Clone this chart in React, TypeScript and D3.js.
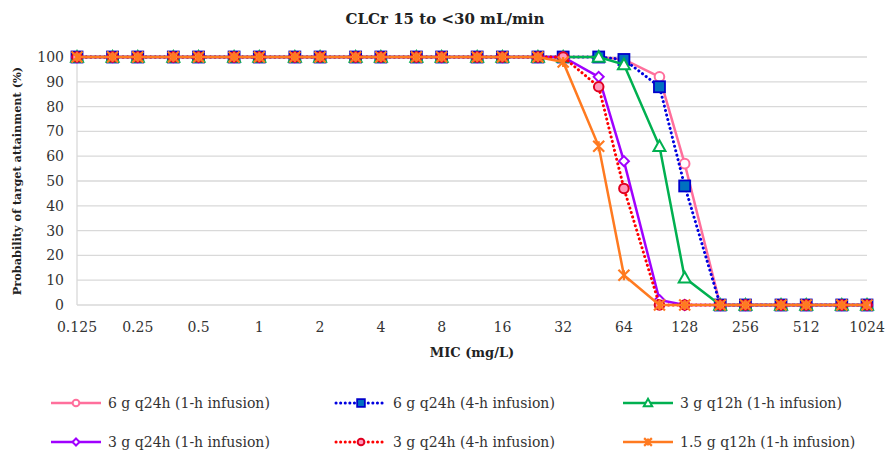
import React, { useEffect, useRef } from "react"
import * as d3 from "d3"

// MIC values (mg/L) on the x axis, including the half-steps between labels
const micValues = [0.125, 0.1875, 0.25, 0.375, 0.5, 0.75, 1, 1.5, 2, 3, 4, 6, 8, 12, 16, 24, 32, 48, 64, 96, 128, 192, 256, 384, 512, 768, 1024]
const tickValues = [0.125, 0.25, 0.5, 1, 2, 4, 8, 16, 32, 64, 128, 256, 512, 1024]
const yTicks = [0, 10, 20, 30, 40, 50, 60, 70, 80, 90, 100]

const pta6gQ24h1h = [100, 100, 100, 100, 100, 100, 100, 100, 100, 100, 100, 100, 100, 100, 100, 100, 100, 100, 99, 92, 57, 0, 0, 0, 0, 0, 0]
const pta6gQ24h4h = [100, 100, 100, 100, 100, 100, 100, 100, 100, 100, 100, 100, 100, 100, 100, 100, 100, 100, 99, 88, 48, 0, 0, 0, 0, 0, 0]
const pta3gQ12h1h = [100, 100, 100, 100, 100, 100, 100, 100, 100, 100, 100, 100, 100, 100, 100, 100, 100, 100, 97, 64, 11, 0, 0, 0, 0, 0, 0]
const pta3gQ24h1h = [100, 100, 100, 100, 100, 100, 100, 100, 100, 100, 100, 100, 100, 100, 100, 100, 100, 92, 58, 2, 0, 0, 0, 0, 0, 0, 0]
const pta3gQ24h4h = [100, 100, 100, 100, 100, 100, 100, 100, 100, 100, 100, 100, 100, 100, 100, 100, 100, 88, 47, 0, 0, 0, 0, 0, 0, 0, 0]
const pta15gQ12h1h = [100, 100, 100, 100, 100, 100, 100, 100, 100, 100, 100, 100, 100, 100, 100, 100, 98, 64, 12, 0, 0, 0, 0, 0, 0, 0, 0]

const series = [
  { name: "6 g q24h (1-h infusion)", values: pta6gQ24h1h, color: "#ff6f9c", dash: null, marker: "circle", fill: "#ffffff", markerStroke: "#ff6f9c" },
  { name: "6 g q24h (4-h infusion)", values: pta6gQ24h4h, color: "#0000e0", dash: "0.1 4.5", marker: "square", fill: "#0070c0", markerStroke: "#0000cc" },
  { name: "3 g q12h (1-h infusion)", values: pta3gQ12h1h, color: "#00b050", dash: null, marker: "triangle", fill: "#ffffff", markerStroke: "#00b050" },
  { name: "3 g q24h (1-h infusion)", values: pta3gQ24h1h, color: "#a000ff", dash: null, marker: "diamond", fill: "#ffffff", markerStroke: "#a000ff" },
  { name: "3 g q24h (4-h infusion)", values: pta3gQ24h4h, color: "#ff0000", dash: "0.1 4.5", marker: "circle", fill: "#ff99bb", markerStroke: "#e00020" },
  { name: "1.5 g q12h (1-h infusion)", values: pta15gQ12h1h, color: "#ff7a20", dash: null, marker: "star", fill: "none", markerStroke: "#ff7a20" },
]

const FONT = "'DejaVu Serif', serif"

function drawMarker(g, type, x, y, fill, stroke, scale) {
  const s = scale || 1
  if (type === "circle") {
    g.append("circle").attr("cx", x).attr("cy", y).attr("r", 4.8 * s)
      .attr("fill", fill).attr("stroke", stroke).attr("stroke-width", 2)
  } else if (type === "square") {
    g.append("rect").attr("x", x - 5.5 * s).attr("y", y - 5.5 * s)
      .attr("width", 11 * s).attr("height", 11 * s)
      .attr("fill", fill).attr("stroke", stroke).attr("stroke-width", 1.8)
  } else if (type === "triangle") {
    const r = 6 * s
    g.append("path")
      .attr("d", `M${x},${y - r}L${x + r},${y + r * 0.8}L${x - r},${y + r * 0.8}Z`)
      .attr("fill", fill).attr("stroke", stroke).attr("stroke-width", 2)
  } else if (type === "diamond") {
    const r = 5 * s
    g.append("path")
      .attr("d", `M${x},${y - r}L${x + r},${y}L${x},${y + r}L${x - r},${y}Z`)
      .attr("fill", fill).attr("stroke", stroke).attr("stroke-width", 2)
  } else if (type === "star") {
    const r = 5.5 * s
    g.append("path")
      .attr("d", `M${x - r},${y - r}L${x + r},${y + r}M${x - r},${y + r}L${x + r},${y - r}M${x},${y - r * 0.9}L${x},${y + r * 0.9}`)
      .attr("fill", "none").attr("stroke", stroke).attr("stroke-width", 2.2)
  }
}

export default function App() {
  const ref = useRef(null)

  useEffect(() => {
    const svg = d3.select(ref.current)
    svg.selectAll("*").remove()

    const x = d3.scaleLog().base(2).domain([0.125, 1024]).range([77, 867])
    const y = d3.scaleLinear().domain([0, 100]).range([305, 57])

    // title
    svg.append("text")
      .attr("x", 445).attr("y", 24)
      .attr("text-anchor", "middle")
      .attr("font-family", FONT).attr("font-weight", "bold").attr("font-size", 15)
      .attr("fill", "#222")
      .text("CLCr 15 to <30 mL/min")

    // gridlines
    svg.append("g").selectAll("line").data(yTicks).enter().append("line")
      .attr("x1", 77).attr("x2", 867)
      .attr("y1", d => y(d)).attr("y2", d => y(d))
      .attr("stroke", "#d9d9d9").attr("stroke-width", 1.3)
    svg.append("line")
      .attr("x1", 77).attr("x2", 77).attr("y1", y(100)).attr("y2", y(0))
      .attr("stroke", "#d9d9d9").attr("stroke-width", 1.3)

    // y tick labels
    svg.append("g").selectAll("text").data(yTicks).enter().append("text")
      .attr("x", 64).attr("y", d => y(d) + 5)
      .attr("text-anchor", "end")
      .attr("font-family", FONT).attr("font-size", 14).attr("fill", "#333")
      .text(d => d)

    // x tick labels
    svg.append("g").selectAll("text").data(tickValues).enter().append("text")
      .attr("x", d => x(d)).attr("y", 332)
      .attr("text-anchor", "middle")
      .attr("font-family", FONT).attr("font-size", 14).attr("fill", "#333")
      .text(d => String(d))

    // axis titles
    svg.append("text")
      .attr("x", 472).attr("y", 357)
      .attr("text-anchor", "middle")
      .attr("font-family", FONT).attr("font-weight", "bold").attr("font-size", 13)
      .attr("fill", "#222")
      .text("MIC (mg/L)")
    svg.append("text")
      .attr("transform", "translate(21,181) rotate(-90)")
      .attr("text-anchor", "middle")
      .attr("font-family", FONT).attr("font-weight", "bold").attr("font-size", 11.3)
      .attr("fill", "#222")
      .text("Probability of target attainment (%)")

    // lines
    const line = d3.line().x(d => x(d[0])).y(d => y(d[1]))
    series.forEach(s => {
      const pts = micValues.map((m, i) => [m, s.values[i]])
      svg.append("path")
        .attr("d", line(pts))
        .attr("fill", "none")
        .attr("stroke", s.color)
        .attr("stroke-width", s.dash ? 3 : 2.5)
        .attr("stroke-linecap", s.dash ? "round" : "butt")
        .attr("stroke-dasharray", s.dash)
      const mg = svg.append("g")
      pts.forEach(p => drawMarker(mg, s.marker, x(p[0]), y(p[1]), s.fill, s.markerStroke, 1))
    })

    // legend
    const cols = [51, 336, 623]
    const rows = [403, 442]
    series.forEach((s, i) => {
      const lx = cols[i % 3]
      const ly = rows[Math.floor(i / 3)]
      const lg = svg.append("g")
      lg.append("line")
        .attr("x1", lx).attr("x2", lx + 50).attr("y1", ly).attr("y2", ly)
        .attr("stroke", s.color)
        .attr("stroke-width", s.dash ? 3 : 2.5)
        .attr("stroke-linecap", s.dash ? "round" : "butt")
        .attr("stroke-dasharray", s.dash)
      drawMarker(lg, s.marker, lx + 25, ly, s.fill, s.markerStroke, 0.7)
      lg.append("text")
        .attr("x", lx + 57).attr("y", ly + 5)
        .attr("font-family", FONT).attr("font-size", 14).attr("fill", "#333")
        .text(s.name)
    })
  }, [])

  return (
    <svg ref={ref} width={887} height={454}
      style={{ position: "absolute", left: 0, top: 0, background: "#fff" }} />
  )
}
